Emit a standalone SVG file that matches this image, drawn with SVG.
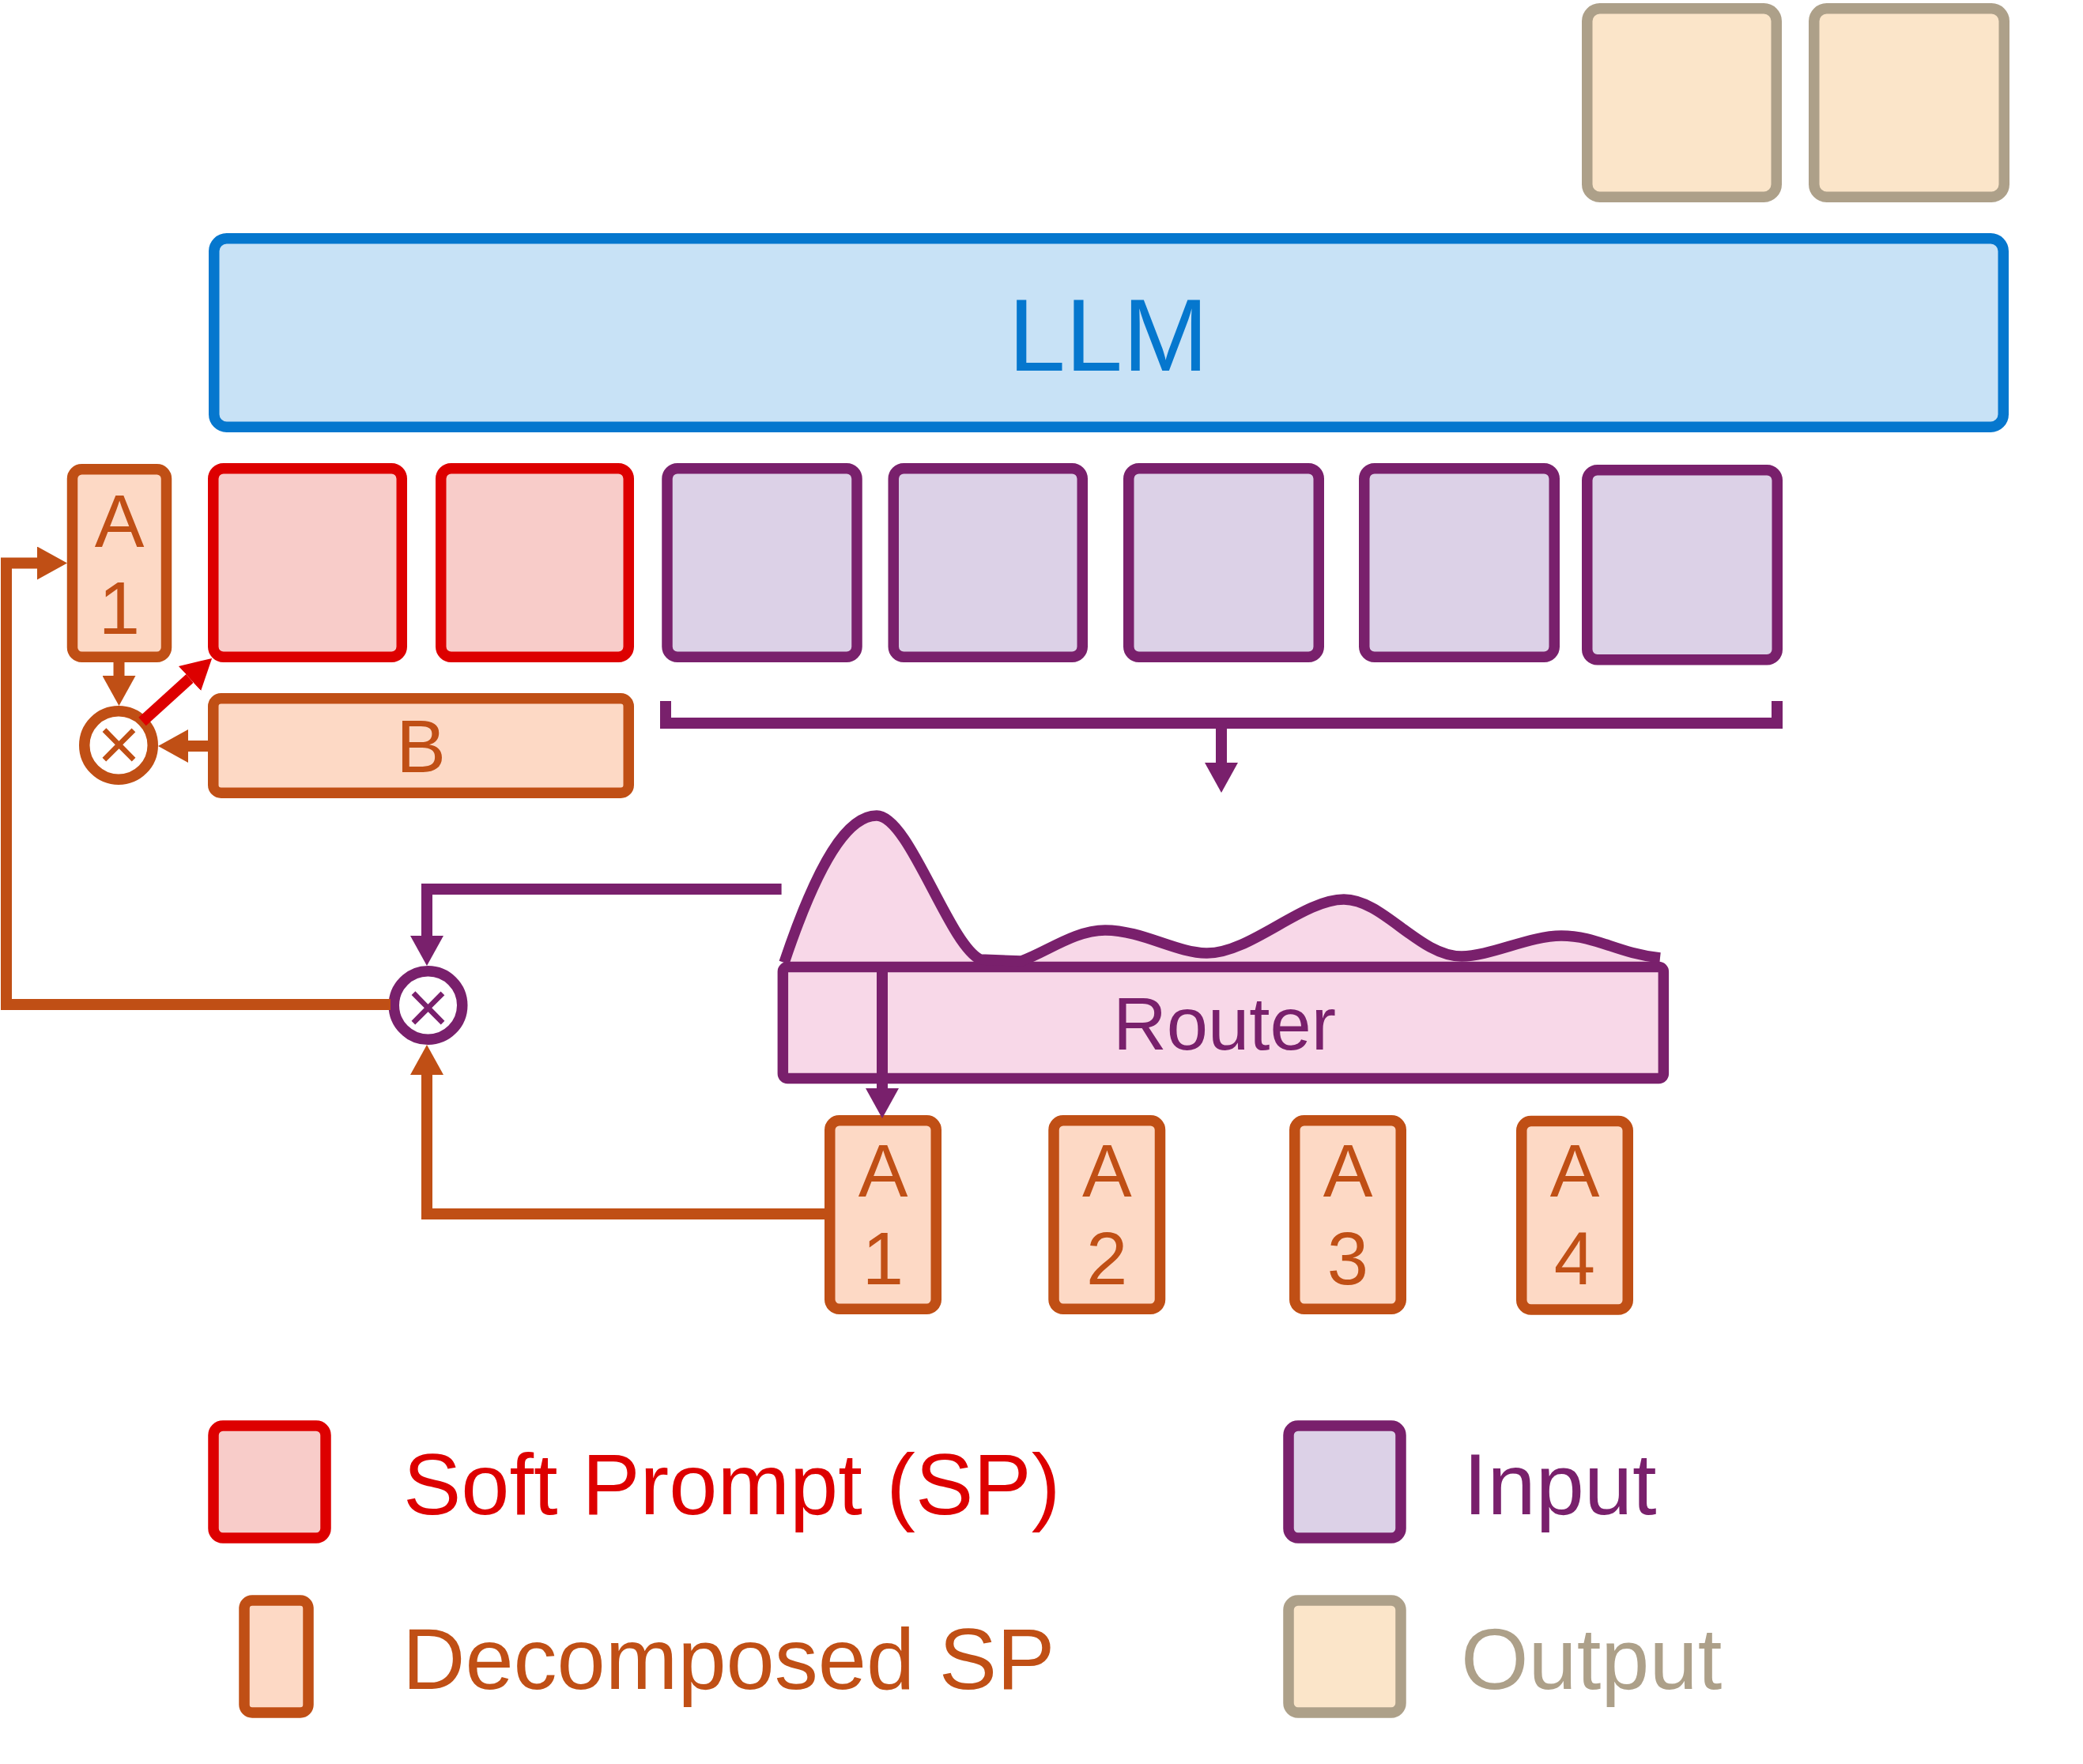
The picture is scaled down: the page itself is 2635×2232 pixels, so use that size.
<svg xmlns="http://www.w3.org/2000/svg" width="2635" height="2232" viewBox="0 0 2635 2232">
<defs>
<style>
  text { font-family: "Liberation Sans", Arial, Helvetica, sans-serif; }
  .box { stroke-width: 13.5; }
  .sp { fill: #F8CCC9; stroke: #DD0000; }
  .dsp { fill: #FDD9C5; stroke: #C04F15; }
  .inp { fill: #DCD1E7; stroke: #79206C; }
  .out { fill: #FBE5C9; stroke: #ADA089; }
  .llm { fill: #C8E2F6; stroke: #0577CE; }
  .router { fill: #F8D8E8; stroke: #79206C; }
  .mul { fill: #FFFFFF; stroke-width: 13.5; }
  .lbl { font-size: 94px; text-anchor: middle; }
  .orange-t { fill: #C04F15; }
  .purple-t { fill: #79206C; }
  .leg { font-size: 110px; }
  .cx { fill: none; stroke-width: 14; stroke-linejoin: miter; stroke-linecap: butt; }
  .c-or { stroke: #C04F15; marker-end: url(#ah-or); }
  .c-pu { stroke: #79206C; marker-end: url(#ah-pu); }
  .c-red { stroke: #DD0000; marker-end: url(#ah-red); }
  .times { font-size: 94px; text-anchor: middle; }
</style>
<marker id="ah-or" markerUnits="userSpaceOnUse" viewBox="0 0 38 42" markerWidth="38" markerHeight="42" refX="0" refY="21" orient="auto"><path d="M0,0 L38,21 L0,42 Z" fill="#C04F15"/></marker>
<marker id="ah-pu" markerUnits="userSpaceOnUse" viewBox="0 0 38 42" markerWidth="38" markerHeight="42" refX="0" refY="21" orient="auto"><path d="M0,0 L38,21 L0,42 Z" fill="#79206C"/></marker>
<marker id="ah-red" markerUnits="userSpaceOnUse" viewBox="0 0 38 42" markerWidth="38" markerHeight="42" refX="0" refY="21" orient="auto"><path d="M0,0 L38,21 L0,42 Z" fill="#DD0000"/></marker>
</defs>

<rect width="2635" height="2232" fill="#FFFFFF"/>

<!-- Output tokens -->
<g id="output-1"><rect class="box out" x="2007.75" y="10.75" width="239.5" height="238.5" rx="16"/></g>
<g id="output-2"><rect class="box out" x="2294.75" y="10.75" width="240.5" height="238.5" rx="16"/></g>

<!-- LLM -->
<g id="llm">
  <rect class="box llm" x="270.75" y="301.75" width="2263.5" height="238.5" rx="16"/>
  <text x="1402" y="469" font-size="130" text-anchor="middle" fill="#0577CE">LLM</text>
</g>

<!-- Token row -->
<g id="a1-top">
  <rect class="box dsp" x="91.5" y="593.75" width="119" height="237.5" rx="12"/>
  <text class="lbl orange-t" x="151" y="692">A</text>
  <text class="lbl orange-t" x="151" y="802">1</text>
</g>
<g id="sp-1"><rect class="box sp" x="269.75" y="592.75" width="238.5" height="238.5" rx="13"/></g>
<g id="sp-2"><rect class="box sp" x="557.75" y="592.75" width="237.5" height="238.5" rx="13"/></g>
<g id="input-1"><rect class="box inp" x="844" y="592.75" width="240" height="238.5" rx="13"/></g>
<g id="input-2"><rect class="box inp" x="1130.25" y="592.75" width="239" height="238.5" rx="13"/></g>
<g id="input-3"><rect class="box inp" x="1427.75" y="592.75" width="240.5" height="238.5" rx="13"/></g>
<g id="input-4"><rect class="box inp" x="1725.75" y="592.75" width="240.5" height="238.5" rx="13"/></g>
<g id="input-5"><rect class="box inp" x="2007.75" y="594.75" width="240.5" height="240" rx="13"/></g>

<!-- B -->
<g id="b">
  <rect class="box dsp" x="269.75" y="883.75" width="525.5" height="119.5" rx="10"/>
  <text class="lbl orange-t" x="532.5" y="977">B</text>
</g>

<!-- Router with distribution curve -->
<g id="router">
  <path d="M 992,1218 C 1035,1090 1072,1032 1109,1032 C 1150,1032 1200,1195 1240,1214 L 1292,1216 C 1325,1204 1360,1177 1398,1177 C 1445,1177 1488,1206 1527,1206 C 1582,1206 1648,1138 1700,1138 C 1750,1138 1795,1210 1849,1210 C 1885,1210 1935,1184 1975,1184 C 2020,1184 2045,1206 2100,1212 L 2100,1224 L 992,1224 Z" fill="#F8D8E8"/>
  <rect class="box router" x="990.35" y="1223.45" width="1114" height="141" rx="6"/>
  <path d="M 992,1218 C 1035,1090 1072,1032 1109,1032 C 1150,1032 1200,1195 1240,1214 L 1292,1216 C 1325,1204 1360,1177 1398,1177 C 1445,1177 1488,1206 1527,1206 C 1582,1206 1648,1138 1700,1138 C 1750,1138 1795,1210 1849,1210 C 1885,1210 1935,1184 1975,1184 C 2020,1184 2045,1206 2100,1212" fill="none" stroke="#79206C" stroke-width="13.5" stroke-linejoin="round"/>
  <text class="lbl purple-t" x="1549" y="1328">Router</text>
</g>

<!-- Bottom decomposed A boxes -->
<g id="a1">
  <rect class="box dsp" x="1049.75" y="1417.75" width="134.5" height="238.5" rx="12"/>
  <text class="lbl orange-t" x="1117" y="1514">A</text>
  <text class="lbl orange-t" x="1117" y="1625">1</text>
</g>
<g id="a2">
  <rect class="box dsp" x="1333" y="1417.75" width="134.5" height="238.5" rx="12"/>
  <text class="lbl orange-t" x="1400.25" y="1514">A</text>
  <text class="lbl orange-t" x="1400.25" y="1625">2</text>
</g>
<g id="a3">
  <rect class="box dsp" x="1637.75" y="1417.75" width="134.5" height="238.5" rx="12"/>
  <text class="lbl orange-t" x="1705" y="1514">A</text>
  <text class="lbl orange-t" x="1705" y="1625">3</text>
</g>
<g id="a4">
  <rect class="box dsp" x="1924.75" y="1418.5" width="134.5" height="238.5" rx="12"/>
  <text class="lbl orange-t" x="1992" y="1514">A</text>
  <text class="lbl orange-t" x="1992" y="1625">4</text>
</g>

<!-- Multiplication nodes -->
<g id="mul-1">
  <circle class="mul" cx="150" cy="943" r="43.25" stroke="#C04F15"/>
  <text class="times orange-t" x="150.5" y="974">×</text>
</g>
<g id="mul-2">
  <circle class="mul" cx="541.5" cy="1272" r="43.25" stroke="#79206C"/>
  <text class="times purple-t" x="541.5" y="1307">×</text>
</g>

<!-- Connectors -->
<g id="connectors">
  <path class="cx c-or" d="M 494,1271 H 8 V 712.5 H 47"/>
  <path class="cx c-or" d="M 150.5,838 V 855"/>
  <path class="cx c-or" d="M 263,944 H 238"/>
  <path class="cx c-red" d="M 180,913 L 240,858.5"/>
  <path class="cx" stroke="#79206C" d="M 842,887 V 915 H 2248 V 887"/>
  <path class="cx c-pu" d="M 1545,915 V 965"/>
  <path class="cx c-pu" d="M 988.6,1125 H 540 V 1184"/>
  <path class="cx c-or" d="M 1043,1536 H 540 V 1360"/>
  <path class="cx c-pu" stroke-width="10" d="M 1116,1223 V 1377"/>
</g>

<!-- Legend -->
<g id="legend-sp">
  <rect class="box sp" x="270" y="1804" width="142" height="142" rx="12"/>
  <text class="leg" x="510" y="1916" fill="#DD0000">Soft Prompt (SP)</text>
</g>
<g id="legend-dsp">
  <rect class="box dsp" x="309" y="2025" width="81" height="142" rx="10"/>
  <text class="leg" x="509" y="2137" fill="#C04F15">Decomposed SP</text>
</g>
<g id="legend-input">
  <rect class="box inp" x="1630" y="1804" width="142" height="142" rx="12"/>
  <text class="leg" x="1851" y="1916" fill="#79206C">Input</text>
</g>
<g id="legend-output">
  <rect class="box out" x="1630" y="2025" width="142" height="142" rx="12"/>
  <text class="leg" x="1848" y="2137" fill="#ADA089">Output</text>
</g>
</svg>
